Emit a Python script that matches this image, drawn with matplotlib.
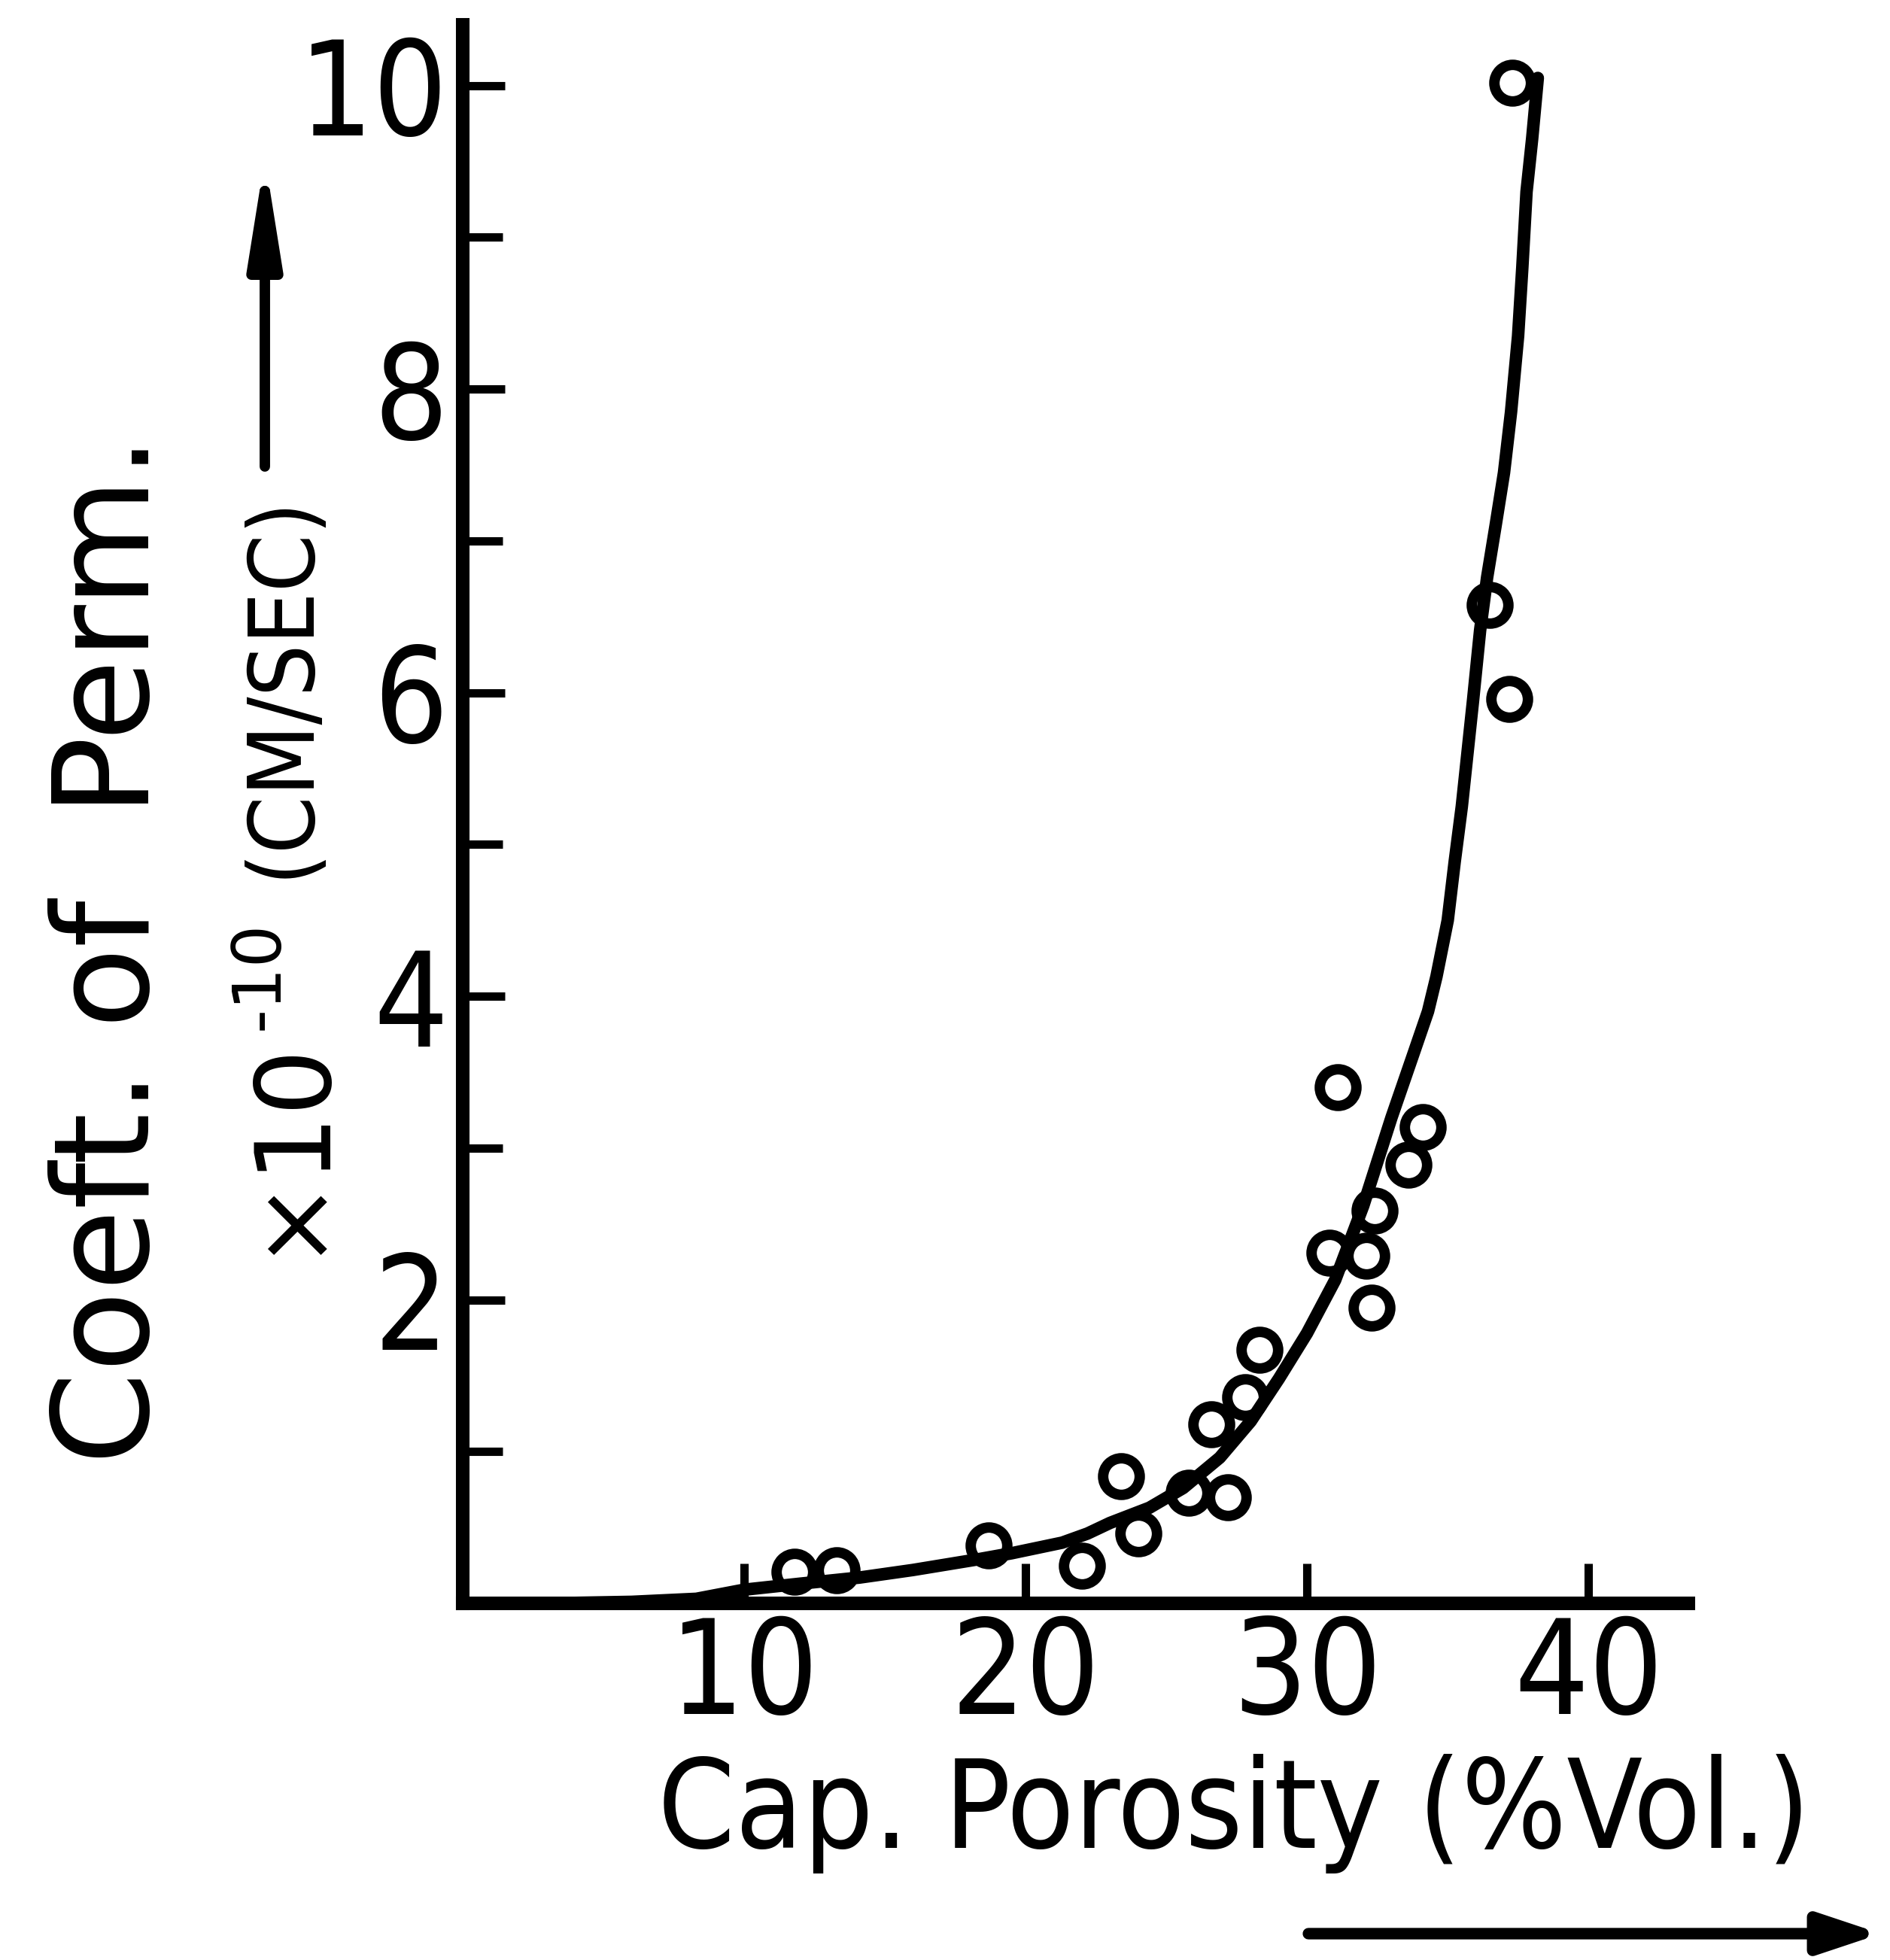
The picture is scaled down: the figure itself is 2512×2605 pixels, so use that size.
import os
import matplotlib
matplotlib.use("Agg")
import matplotlib.pyplot as plt
from matplotlib import font_manager as fm
from matplotlib.font_manager import FontProperties

# ---------------- data ----------------
porosity = [11.8, 13.3, 18.7, 22.0, 23.4, 24.0, 25.8, 27.2, 26.6, 27.8, 28.3,
            31.1, 30.8, 32.1, 32.3, 32.4, 33.6, 34.1, 36.5, 37.2, 37.3]
permeability = [0.21, 0.22, 0.38, 0.25, 0.84, 0.46, 0.73, 0.70, 1.18, 1.36, 1.67,
                3.40, 2.31, 2.29, 1.95, 2.59, 2.89, 3.14, 6.58, 5.96, 10.02]

curve_x = [3.0, 6.0, 8.3, 10.0, 12.0, 14.1, 16.0, 18.3, 19.5, 21.3, 22.2, 23.0,
           24.4, 25.6, 26.9, 28.0, 29.0, 30.0, 31.0, 32.0, 33.0, 33.8, 34.3,
           34.6, 35.0, 35.25, 35.5, 35.7, 35.9, 36.15, 36.4, 36.7, 37.0, 37.25,
           37.5, 37.65, 37.8, 38.0, 38.2]
curve_y = [0.0, 0.01, 0.03, 0.09, 0.13, 0.17, 0.22, 0.29, 0.33, 0.40, 0.46, 0.53,
           0.63, 0.76, 0.96, 1.20, 1.48, 1.78, 2.13, 2.62, 3.20, 3.63, 3.90,
           4.13, 4.50, 4.89, 5.25, 5.60, 5.95, 6.41, 6.76, 7.10, 7.45, 7.85,
           8.35, 8.80, 9.30, 9.65, 10.05]

x_ticks = [10, 20, 30, 40]
x_tick_labels = ["10", "20", "30", "40"]
y_ticks = [2, 4, 6, 8, 10]
y_tick_labels = ["2", "4", "6", "8", "10"]
y_minor_ticks = [1, 3, 5, 7, 9]

x_label = "Cap. Porosity (%Vol.)"
y_label = "Coeft. of  Perm."
y_scale_base = "\u00d710"
y_scale_exp = "-10"
y_unit = "(CM/SEC)"

# ---------------- fonts ----------------
def find_font(patterns):
    for pat in patterns:
        for f in fm.fontManager.ttflist:
            if os.path.basename(f.fname).lower() == pat.lower():
                return f.fname
    return None

cond_path = find_font(["DejaVuSansCondensed.ttf", "RobotoCondensed-Regular.ttf",
                       "LiberationSansNarrow-Regular.ttf"])

def cond_fp(size):
    if cond_path:
        fp = FontProperties(fname=cond_path)
    else:
        fp = FontProperties(family="DejaVu Sans", stretch="condensed")
    fp.set_size(size)
    return fp

W, H = 2512, 2605
fig = plt.figure(figsize=(W / 100, H / 100), dpi=100)
fig.patch.set_facecolor("white")

ax_left, ax_right, ax_bottom, ax_top = 615, 2244, 2131, 33
ax = fig.add_axes([ax_left / W, 1 - ax_bottom / H,
                   (ax_right - ax_left) / W, (ax_bottom - ax_top) / H])
ax.set_facecolor("white")

ax.plot(curve_x, curve_y, color="black", lw=12, solid_capstyle="round",
        solid_joinstyle="round", zorder=2, clip_on=False)
ax.plot(porosity, permeability, linestyle="none", marker="o", ms=35,
        mfc="none", mec="black", mew=10, zorder=3, clip_on=False)

ax.set_xlim(0, 43.55)
ax.set_ylim(0, 10.4)

for s in ("top", "right"):
    ax.spines[s].set_visible(False)
for s in ("left", "bottom"):
    ax.spines[s].set_linewidth(13)
    ax.spines[s].set_capstyle("projecting")

ax.set_xticks(x_ticks, x_tick_labels, fontproperties=cond_fp(125))
ax.set_yticks(y_ticks, y_tick_labels, fontproperties=cond_fp(125))
ax.set_yticks(y_minor_ticks, minor=True)
ax.tick_params(which="both", direction="in", width=8, color="black")
ax.tick_params(axis="x", which="major", length=38, pad=10)
ax.tick_params(axis="y", which="major", length=40, pad=14)
ax.tick_params(axis="y", which="minor", length=38)

ax.set_xlabel(x_label, fontproperties=cond_fp(118), va="center", ha="center")
ax.xaxis.set_label_coords((1640 - ax_left) / (ax_right - ax_left),
                          -(2410 - ax_bottom) / (ax_bottom - ax_top))

ylfp = FontProperties(family="DejaVu Sans", size=127)
ax.set_ylabel(y_label, fontproperties=ylfp, va="center", ha="center")
ax.yaxis.set_label_coords((150 - ax_left) / (ax_right - ax_left),
                          (ax_bottom - 1262) / (ax_bottom - ax_top))

fig.text(382 / W, 1 - 1520 / H, y_scale_base, rotation=90, ha="center",
         va="center", fontsize=100, family="DejaVu Sans")
fig.text(345 / W, 1 - 1296 / H, y_scale_exp, rotation=90, ha="center",
         va="center", fontsize=64, family="DejaVu Sans")
fig.text(375 / W, 1 - 912 / H, y_unit, rotation=90, ha="center", va="center",
         fontproperties=cond_fp(88))

# arrows
ax.annotate("", xy=(352 / W, 1 - 210 / H), xytext=(352 / W, 1 - 620 / H),
            xycoords="figure fraction", textcoords="figure fraction",
            arrowprops=dict(arrowstyle="-|>,head_length=1.0,head_width=0.16",
                            mutation_scale=80, lw=10, color="black",
                            shrinkA=0, shrinkB=0))
ax.annotate("", xy=(2500 / W, 1 - 2570 / H), xytext=(1739 / W, 1 - 2570 / H),
            xycoords="figure fraction", textcoords="figure fraction",
            arrowprops=dict(arrowstyle="-|>,head_length=0.6,head_width=0.2",
                            mutation_scale=80, lw=11, color="black",
                            shrinkA=0, shrinkB=0))

fig.savefig("out.png", dpi=100, facecolor="white")
